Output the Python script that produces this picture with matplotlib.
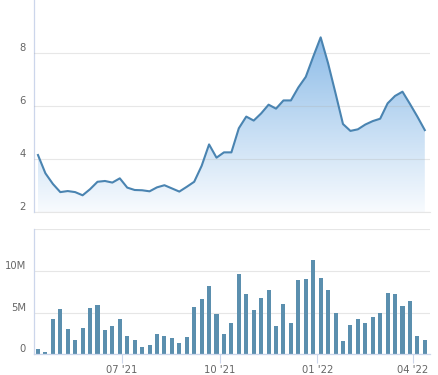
import numpy as np
import pandas as pd
import matplotlib
matplotlib.use('Agg')
import matplotlib.pyplot as plt
import matplotlib.dates as mdates
from matplotlib.colors import LinearSegmentedColormap

# weekly data (price and volume)
dates = pd.date_range('2021-04-13', periods=53, freq='7D')
price = [4.15, 3.46, 3.06, 2.75, 2.79, 2.75, 2.63, 2.86, 3.14, 3.17,
         3.11, 3.27, 2.92, 2.83, 2.82, 2.78, 2.93, 3.01, 2.89, 2.77,
         2.95, 3.14, 3.74, 4.55, 4.05, 4.25, 4.25, 5.16, 5.60, 5.45,
         5.72, 6.05, 5.90, 6.21, 6.21, 6.70, 7.10, 7.86, 8.59, 7.61,
         6.48, 5.32, 5.06, 5.12, 5.30, 5.43, 5.52, 6.10, 6.38, 6.54,
         6.08, 5.60, 5.09]
volume_m = [0.64, 0.24, 4.25, 5.46, 3.05, 1.72, 3.17, 5.58, 5.94, 2.93,
            3.41, 4.25, 2.20, 1.72, 0.88, 1.12, 2.45, 2.20, 1.96, 1.36,
            2.08, 5.70, 6.66, 8.23, 4.85, 2.45, 3.77, 9.67, 7.26, 5.34,
            6.78, 7.75, 3.41, 6.06, 3.77, 8.95, 9.07, 11.36, 9.19, 7.75,
            4.98, 1.60, 3.53, 4.25, 3.77, 4.49, 4.98, 7.38, 7.26, 5.82,
            6.42, 2.20, 1.72]
tick_dates = ['2021-07-01', '2021-10-01', '2022-01-01', '2022-04-01']
price_ticks = [2, 4, 6, 8]
vol_ticks = [0, 5e6, 10e6]
vol_labels = ['0', '5M', '10M']

line_c = '#4a84b1'
bar_c = '#5b8fae'
grid_c = '#e6e6e6'
axis_c = '#ccd6eb'
text_c = '#666666'

x = mdates.date2num(dates)
volume = np.array(volume_m) * 1e6
xlim = (mdates.date2num(pd.Timestamp('2021-04-09')), mdates.date2num(pd.Timestamp('2022-04-17')))

fig = plt.figure(figsize=(4.38, 3.75), dpi=100)
ax1 = fig.add_axes([0.077, 0.4347, 0.905, 0.5653])
ax2 = fig.add_axes([0.077, 0.0552, 0.905, 0.3333])

# price area with gradient fill
ax1.set_xlim(*xlim)
ax1.set_ylim(2, 10)
poly = ax1.fill_between(x, price, 2, color='none', lw=0)
cmap = LinearSegmentedColormap.from_list('g', ['#f8fbfe', '#8dbce8'])
grad = np.linspace(0, 1, 256).reshape(-1, 1)
img = ax1.imshow(grad, cmap=cmap, aspect='auto', origin='lower',
                 extent=[x[0], x[-1], 2, max(price)], zorder=1)
img.set_clip_path(poly.get_paths()[0], transform=ax1.transData)
ax1.axhline(2, color=grid_c, lw=0.8, zorder=2, clip_on=False)
ax1.plot(x, price, color=line_c, lw=1.5, zorder=3, solid_joinstyle='round')
ax1.set_xlim(*xlim)
ax1.set_ylim(2, 10)

# volume bars
ax2.bar(x, volume, width=3.8, color=bar_c, zorder=2)
ax2.set_xlim(*xlim)
ax2.set_ylim(0, 15e6)

for ax in (ax1, ax2):
    ax.set_facecolor('white')
    for s in ('top', 'right', 'bottom'):
        ax.spines[s].set_visible(False)
    ax.spines['left'].set_color(axis_c)
    ax.spines['left'].set_linewidth(0.9)

# price gridlines show faintly through the area fill
ax1.grid(axis='y', color='#b0b0b0', alpha=0.3, lw=0.8)
ax1.set_axisbelow(False)
ax2.grid(axis='y', color=grid_c, lw=0.8)
ax2.set_axisbelow(True)

ax1.set_yticks(price_ticks)
ax1.set_yticklabels([str(t) for t in price_ticks])
ax1.set_xticks([])
ax2.set_yticks(vol_ticks + [15e6])
ax2.set_yticklabels(vol_labels + [''])
ax2.spines['bottom'].set_visible(True)
ax2.spines['bottom'].set_color(axis_c)
ax2.spines['bottom'].set_linewidth(0.9)
ax2.set_xticks(mdates.date2num(pd.to_datetime(tick_dates)))
ax2.xaxis.set_major_formatter(mdates.DateFormatter("%m '%y"))
ax2.tick_params(axis='x', length=6.5, width=0.8, color=axis_c, labelsize=7.2,
                labelcolor=text_c, pad=1)

for ax in (ax1, ax2):
    ax.tick_params(axis='y', length=0, labelsize=7.2, labelcolor=text_c, pad=5.5)
    for lab in ax.get_yticklabels():
        lab.set_verticalalignment('bottom')

fig.savefig('out.png', dpi=100)
